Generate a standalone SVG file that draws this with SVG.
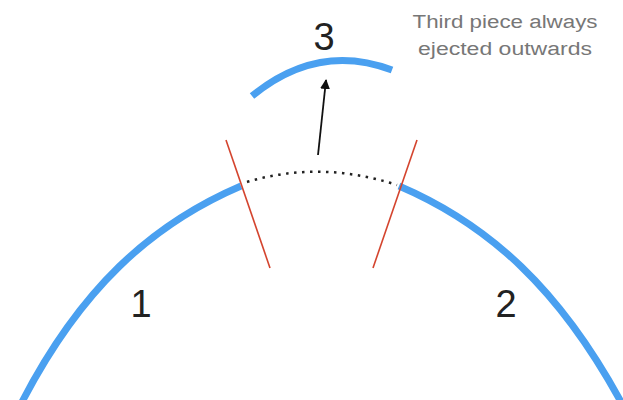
<svg xmlns="http://www.w3.org/2000/svg" width="623" height="400" viewBox="0 0 623 400">
<style>
.blue{fill:none;stroke:#4aa0f0;stroke-width:7;stroke-linecap:butt}
.red{fill:none;stroke:#d4442e;stroke-width:1.6}
.dot{fill:none;stroke:#222;stroke-width:2.5;stroke-dasharray:2.5 5.5}
.num{font-family:"Liberation Sans",Arial,sans-serif;font-size:38px;fill:#222;text-anchor:middle}
.note{font-family:"Liberation Sans",Arial,sans-serif;font-size:18px;fill:#777;text-anchor:middle}
</style>
<defs>
<marker id="ah" viewBox="0 0 10 10" refX="9" refY="5" markerWidth="10" markerHeight="10" markerUnits="userSpaceOnUse" orient="auto">
<path d="M0,0 L10,5 L0,10 z" fill="#111"/>
</marker>
</defs>
<g id="piece1">
<path class="blue" d="M22,402 C80,290 150,225 241,186"/>
<text class="num" x="141" y="317">1</text>
</g>
<g id="piece2">
<path class="blue" d="M399,186 C490,225 560,290 621,402"/>
<text class="num" x="506" y="317">2</text>
</g>
<g id="piece3">
<path class="blue" d="M252,96 Q318,42 392,70"/>
<text class="num" x="324" y="50">3</text>
</g>
<g id="gap">
<path class="dot" d="M247,182 Q320,160 397,185"/>
</g>
<g id="cuts">
<line class="red" x1="226" y1="140" x2="270" y2="268"/>
<line class="red" x1="417" y1="140" x2="373" y2="268"/>
</g>
<g id="connectors">
<line x1="318" y1="155" x2="326" y2="80" stroke="#111" stroke-width="1.8" marker-end="url(#ah)"/>
</g>
<g id="note">
<text class="note" x="505" y="28" textLength="185" lengthAdjust="spacingAndGlyphs">Third piece always</text>
<text class="note" x="505" y="55" textLength="174" lengthAdjust="spacingAndGlyphs">ejected outwards</text>
</g>
</svg>
